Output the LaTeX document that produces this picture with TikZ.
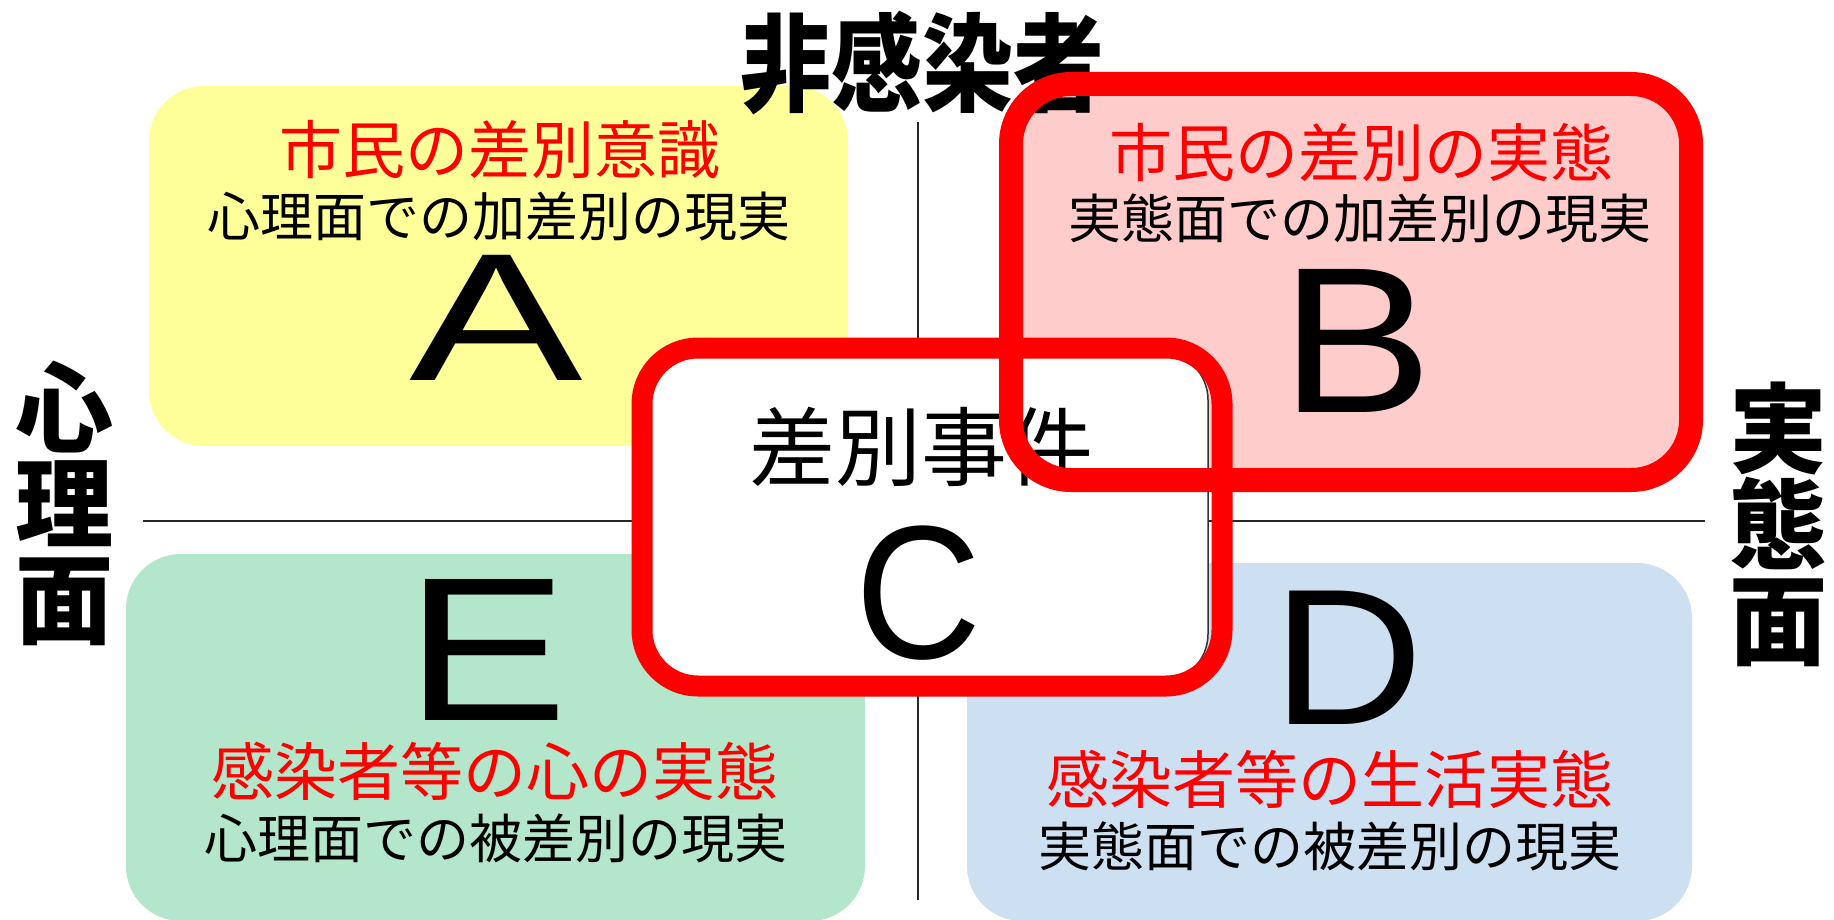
\documentclass[tikz,border=0pt]{standalone}
\usepackage{fontspec}
\usepackage{graphicx}
\setmainfont{Liberation Sans}
\newfontfamily\jp{Noto Sans CJK JP}
\definecolor{cA}{RGB}{255,255,153}
\definecolor{cB}{RGB}{255,204,204}
\definecolor{cE}{RGB}{179,230,202}
\definecolor{cD}{RGB}{204,224,242}
\definecolor{rd}{RGB}{255,0,0}
\tikzset{
  quad/.style={rounded corners=55pt, draw=none},
  ring/.style={draw=rd, line width=#1},
  axis/.style={draw=black!85, line width=2pt},
  red line/.style={text=rd, inner sep=0pt, font=\jp\fontsize{63}{63}\selectfont},
  sub line/.style={text=black, inner sep=0pt, font=\jp\fontsize{53}{53}\selectfont},
  letter/.style={text=black, inner sep=0pt, font=\fontsize{#1}{#1}\selectfont},
  side/.style={text=black, inner sep=0pt, align=center, font=\jp\bfseries\fontsize{98}{98}\selectfont}
}
\begin{document}
\begin{tikzpicture}[x=1pt,y=-1pt]
\useasboundingbox[fill=white] (0,0) rectangle (1834,920);
% quadrant fills
\fill[cA, quad] (149,86) rectangle (848,446);
\fill[cE, quad] (126,554) rectangle (865,921);
\fill[cD, quad] (967,563) rectangle (1692,921);
% axes
\coordinate (vt) at (918,122);
\coordinate (vb) at (918,900);
\coordinate (hl) at (143,521);
\coordinate (hr) at (1705,521);
\draw[axis] (vt) -- (vb);
\draw[axis] (hl) -- (hr);
% B fill, C fill
\fill[cB, rounded corners=60pt] (1011,84) rectangle (1691,480);
\draw[fill=white, draw=black!80, line width=1.5pt, rounded corners=48pt] (645,352) rectangle (1208,682);
% title and side labels
\node[inner sep=0pt, font=\jp\bfseries\fontsize{91}{91}\selectfont] (title) at (922,63) {\scalebox{1}[1.17]{非感染者}};
\node[side] (left) at (65,503) {心\\[-2pt]理\\[-2pt]面};
\node[side] (right) at (1778,524) {実\\[-2pt]態\\[-2pt]面};
% A
\node[red line] (Ar) at (500,150) {市民の差別意識};
\node[sub line] (As) at (499,216) {心理面での加差別の現実};
\node[letter=182] (A) at (496,318) {\scalebox{1.43}[1]{A}};
% B
\node[red line] (Br) at (1361,152) {市民の差別の実態};
\node[sub line] (Bs) at (1360,218) {実態面での加差別の現実};
\node[letter=208] (B) at (1357,341) {\scalebox{1.10}[1]{B}};
% C
\node[inner sep=0pt, font=\jp\fontsize{86}{86}\selectfont] (Ct) at (921,447) {差別事件};
\node[letter=190] (C) at (919,593) {\scalebox{0.92}[1]{C}};
% E
\node[letter=205] (E) at (487,650) {\scalebox{1.19}[1]{E}};
\node[red line] (Er) at (495,771) {感染者等の心の実態};
\node[sub line] (Es) at (496,838) {心理面での被差別の現実};
% D
\node[letter=194] (D) at (1348,658) {\scalebox{1.08}[1]{D}};
\node[red line] (Dr) at (1330,779) {感染者等の生活実態};
\node[sub line] (Ds) at (1330,846) {実態面での被差別の現実};
% red rings
\draw[ring=21pt, rounded corners=56pt] (642,348) rectangle (1222,686);
\draw[ring=24pt, rounded corners=60pt] (1011,84) rectangle (1691,480);
\end{tikzpicture}
\end{document}
